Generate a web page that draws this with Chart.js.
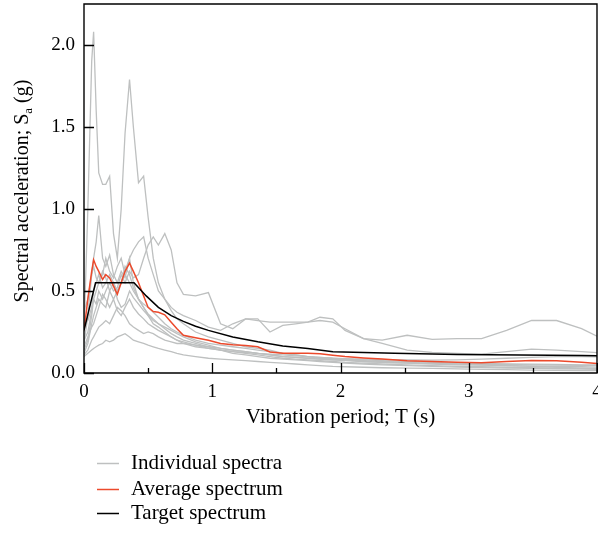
<!DOCTYPE html>
<html><head><meta charset="utf-8">
<script src="https://cdn.jsdelivr.net/npm/chart.js@4/dist/chart.umd.min.js"></script>
<style>html,body{margin:0;padding:0;background:#fff}#wrap{width:598px;height:533px;position:relative}</style>
</head><body><div id="wrap"><canvas id="c" width="598" height="533"></canvas></div>
<script>
// Periods (s) shared by the individual and average spectra
const periods = [0, 0.03, 0.06, 0.075, 0.095, 0.115, 0.145, 0.17, 0.2, 0.23, 0.26, 0.29, 0.32, 0.355, 0.385, 0.425, 0.465, 0.5, 0.54, 0.58, 0.63, 0.68, 0.725, 0.775, 0.87, 0.97, 1.065, 1.16, 1.26, 1.355, 1.45, 1.55, 1.65, 1.745, 1.84, 1.94, 2.035, 2.18, 2.325, 2.52, 2.715, 2.91, 3.1, 3.295, 3.49, 3.685, 3.88, 4.0];

const spectrum1 = [0.25, 1.0, 1.9, 2.08, 1.6, 1.22, 1.15, 1.15, 1.2, 0.85, 0.7, 1.0, 1.46, 1.79, 1.5, 1.16, 1.2, 0.95, 0.7, 0.55, 0.45, 0.38, 0.33, 0.3, 0.25, 0.22, 0.2, 0.18, 0.16, 0.15, 0.14, 0.12, 0.11, 0.1, 0.09, 0.085, 0.08, 0.07, 0.065, 0.06, 0.055, 0.05, 0.048, 0.045, 0.042, 0.04, 0.038, 0.036];
const spectrum2 = [0.18, 0.35, 0.6, 0.7, 0.8, 0.96, 0.7, 0.65, 0.72, 0.6, 0.55, 0.62, 0.58, 0.7, 0.55, 0.45, 0.4, 0.35, 0.3, 0.28, 0.25, 0.22, 0.2, 0.18, 0.16, 0.15, 0.14, 0.13, 0.12, 0.11, 0.1, 0.09, 0.085, 0.08, 0.075, 0.07, 0.065, 0.06, 0.055, 0.05, 0.045, 0.04, 0.038, 0.035, 0.033, 0.03, 0.028, 0.027];
const spectrum3 = [0.3, 0.32, 0.4, 0.45, 0.42, 0.5, 0.45, 0.5, 0.55, 0.5, 0.52, 0.6, 0.55, 0.62, 0.58, 0.6, 0.7, 0.78, 0.83, 0.78, 0.85, 0.75, 0.55, 0.48, 0.47, 0.49, 0.3, 0.27, 0.33, 0.33, 0.25, 0.29, 0.3, 0.31, 0.34, 0.33, 0.26, 0.21, 0.2, 0.23, 0.205, 0.21, 0.21, 0.26, 0.32, 0.32, 0.27, 0.225];
const spectrum4 = [0.2, 0.25, 0.38, 0.5, 0.55, 0.6, 0.52, 0.55, 0.6, 0.55, 0.5, 0.55, 0.62, 0.7, 0.75, 0.8, 0.83, 0.7, 0.6, 0.5, 0.45, 0.4, 0.37, 0.35, 0.32, 0.28, 0.26, 0.3, 0.33, 0.32, 0.31, 0.31, 0.31, 0.31, 0.32, 0.31, 0.27, 0.21, 0.18, 0.14, 0.125, 0.12, 0.115, 0.13, 0.145, 0.14, 0.13, 0.124];
const spectrum5 = [0.14, 0.2, 0.35, 0.45, 0.5, 0.55, 0.62, 0.58, 0.5, 0.45, 0.5, 0.55, 0.65, 0.6, 0.52, 0.45, 0.4, 0.36, 0.33, 0.3, 0.28, 0.26, 0.24, 0.22, 0.19, 0.17, 0.15, 0.14, 0.13, 0.12, 0.11, 0.1, 0.095, 0.09, 0.085, 0.08, 0.075, 0.07, 0.065, 0.06, 0.058, 0.055, 0.053, 0.052, 0.05, 0.048, 0.046, 0.045];
const spectrum6 = [0.12, 0.18, 0.3, 0.35, 0.4, 0.45, 0.42, 0.4, 0.5, 0.55, 0.45, 0.4, 0.42, 0.5, 0.46, 0.42, 0.38, 0.35, 0.32, 0.3, 0.27, 0.24, 0.22, 0.2, 0.18, 0.16, 0.15, 0.14, 0.13, 0.12, 0.115, 0.11, 0.105, 0.1, 0.095, 0.09, 0.088, 0.085, 0.082, 0.08, 0.078, 0.08, 0.085, 0.09, 0.095, 0.1, 0.1, 0.098];
const spectrum7 = [0.11, 0.14, 0.2, 0.22, 0.25, 0.28, 0.3, 0.32, 0.3, 0.35, 0.4, 0.38, 0.35, 0.3, 0.28, 0.26, 0.24, 0.25, 0.24, 0.22, 0.2, 0.19, 0.18, 0.18, 0.17, 0.16, 0.14, 0.12, 0.11, 0.1, 0.09, 0.085, 0.08, 0.075, 0.07, 0.065, 0.06, 0.055, 0.05, 0.045, 0.04, 0.036, 0.033, 0.03, 0.028, 0.026, 0.024, 0.022];
const spectrum8 = [0.1, 0.12, 0.14, 0.15, 0.16, 0.17, 0.18, 0.2, 0.19, 0.2, 0.22, 0.23, 0.24, 0.22, 0.2, 0.19, 0.18, 0.17, 0.16, 0.15, 0.14, 0.13, 0.12, 0.11, 0.1, 0.09, 0.085, 0.08, 0.075, 0.07, 0.065, 0.06, 0.055, 0.05, 0.045, 0.04, 0.038, 0.035, 0.032, 0.03, 0.028, 0.025, 0.022, 0.02, 0.018, 0.016, 0.015, 0.014];
const spectrum9 = [0.38, 0.45, 0.6, 0.65, 0.58, 0.55, 0.6, 0.7, 0.62, 0.58, 0.65, 0.7, 0.6, 0.55, 0.5, 0.45, 0.42, 0.4, 0.37, 0.34, 0.3, 0.27, 0.25, 0.23, 0.2, 0.18, 0.17, 0.16, 0.15, 0.14, 0.13, 0.12, 0.11, 0.1, 0.095, 0.09, 0.085, 0.08, 0.075, 0.07, 0.065, 0.06, 0.058, 0.056, 0.054, 0.052, 0.05, 0.05];
const spectrum10 = [0.16, 0.22, 0.28, 0.3, 0.35, 0.4, 0.48, 0.45, 0.4, 0.45, 0.38, 0.35, 0.4, 0.45, 0.4, 0.36, 0.33, 0.3, 0.28, 0.26, 0.24, 0.22, 0.2, 0.19, 0.17, 0.15, 0.14, 0.13, 0.125, 0.12, 0.11, 0.1, 0.095, 0.09, 0.085, 0.08, 0.078, 0.075, 0.07, 0.065, 0.06, 0.055, 0.05, 0.045, 0.04, 0.035, 0.03, 0.028];

const averageSpectrum = [0.26, 0.45, 0.62, 0.69, 0.65, 0.62, 0.57, 0.6, 0.58, 0.53, 0.48, 0.55, 0.62, 0.67, 0.62, 0.55, 0.47, 0.4, 0.375, 0.37, 0.355, 0.31, 0.27, 0.23, 0.215, 0.2, 0.18, 0.172, 0.168, 0.16, 0.128, 0.12, 0.12, 0.12, 0.118, 0.108, 0.1, 0.092, 0.085, 0.075, 0.07, 0.065, 0.062, 0.07, 0.076, 0.074, 0.065, 0.058];

const targetPeriods = [0, 0.09, 0.39, 0.485, 0.58, 0.68, 0.775, 0.87, 0.97, 1.16, 1.355, 1.55, 1.745, 1.94, 2.42, 2.91, 3.4, 3.88, 4.0];
const targetSpectrum = [0.26, 0.55, 0.55, 0.47, 0.40, 0.35, 0.315, 0.285, 0.26, 0.22, 0.19, 0.165, 0.15, 0.13, 0.12, 0.113, 0.109, 0.106, 0.105];

const xMajorTicks = [0, 1, 2, 3, 4];
const xMinorTicks = [0.5, 1.5, 2.5, 3.5];
const yTicks = [0, 0.5, 1.0, 1.5, 2.0];

const seriesLabels = ['Individual spectra', 'Average spectrum', 'Target spectrum'];
const individualSpectra = [spectrum1, spectrum2, spectrum3, spectrum4, spectrum5, spectrum6, spectrum7, spectrum8, spectrum9, spectrum10];

const GRAY = 'rgb(190,192,192)';
const RED = 'rgb(236,74,44)';
const BLACK = '#000';
const FONT = '"Liberation Serif", "DejaVu Serif", serif';

function pts(xs, ys) { return xs.map((x, i) => ({ x, y: ys[i] })); }

const datasets = [];
individualSpectra.forEach(s => datasets.push({
  label: seriesLabels[0], data: pts(periods, s), borderColor: GRAY, borderWidth: 1.3,
  pointRadius: 0, tension: 0, order: 2, fill: false
}));
datasets.push({ label: seriesLabels[1], data: pts(periods, averageSpectrum), borderColor: RED, borderWidth: 1.5, pointRadius: 0, tension: 0, order: 1, fill: false });
datasets.push({ label: seriesLabels[2], data: pts(targetPeriods, targetSpectrum), borderColor: BLACK, borderWidth: 1.5, pointRadius: 0, tension: 0, order: 0, fill: false });

const decor = {
  id: 'decor',
  afterDraw(chart) {
    const { ctx, chartArea: a, scales: { x, y } } = chart;
    ctx.save();
    ctx.strokeStyle = '#000';
    ctx.lineWidth = 1.4;
    ctx.beginPath();
    ctx.moveTo(a.left, a.top); ctx.lineTo(a.right, a.top); ctx.lineTo(a.right, a.bottom); ctx.lineTo(a.left, a.bottom); ctx.closePath();
    ctx.stroke();
    ctx.lineWidth = 1.3;
    ctx.beginPath();
    xMajorTicks.forEach(v => { const p = Math.round(x.getPixelForValue(v)) + 0.5; ctx.moveTo(p, a.bottom); ctx.lineTo(p, a.bottom - 10); });
    xMinorTicks.forEach(v => { const p = Math.round(x.getPixelForValue(v)) + 0.5; ctx.moveTo(p, a.bottom); ctx.lineTo(p, a.bottom - 5); });
    yTicks.forEach(v => { const p = Math.round(y.getPixelForValue(v)) + 0.5; ctx.moveTo(a.left, p); ctx.lineTo(a.left + 10, p); });
    ctx.stroke();

    // x title
    ctx.fillStyle = '#000';
    ctx.font = '21px ' + FONT;
    ctx.textAlign = 'center';
    ctx.textBaseline = 'middle';
    ctx.fillText('Vibration period; T (s)', (a.left + a.right) / 2, 417);

    // y title with subscript
    const t1 = 'Spectral acceleration; S', sub = 'a', t2 = ' (g)';
    ctx.font = '20px ' + FONT;
    const w1 = ctx.measureText(t1).width, w2 = ctx.measureText(t2).width;
    ctx.font = '13px ' + FONT;
    const ws = ctx.measureText(sub).width;
    const total = w1 + ws + w2;
    ctx.translate(21, 191);
    ctx.rotate(-Math.PI / 2);
    ctx.textAlign = 'left';
    ctx.textBaseline = 'alphabetic';
    let cx = -total / 2;
    ctx.font = '20px ' + FONT; ctx.fillText(t1, cx, 7); cx += w1;
    ctx.font = '13px ' + FONT; ctx.fillText(sub, cx, 11); cx += ws;
    ctx.font = '20px ' + FONT; ctx.fillText(t2, cx, 7);
    ctx.setTransform(1, 0, 0, 1, 0, 0);

    // legend
    const items = [[seriesLabels[0], GRAY, 463], [seriesLabels[1], RED, 489], [seriesLabels[2], BLACK, 513]];
    ctx.font = '21px ' + FONT;
    ctx.textAlign = 'left';
    ctx.textBaseline = 'middle';
    items.forEach(([lab, col, yy]) => {
      ctx.strokeStyle = col; ctx.lineWidth = 1.5;
      ctx.beginPath(); ctx.moveTo(97, yy + 0.5); ctx.lineTo(119, yy + 0.5); ctx.stroke();
      ctx.fillStyle = '#000';
      ctx.fillText(lab, 131, yy);
    });
    ctx.restore();
  }
};

new Chart(document.getElementById('c'), {
  type: 'line',
  data: { datasets },
  plugins: [decor],
  options: {
    responsive: false,
    animation: false,
    devicePixelRatio: 1,
    layout: { padding: { top: 4, right: 1, left: 0, bottom: 0 } },
    plugins: { legend: { display: false }, tooltip: { enabled: false } },
    scales: {
      x: {
        type: 'linear', min: 0, max: 4,
        grid: { display: false, drawTicks: false },
        border: { display: false },
        ticks: { stepSize: 1, padding: 8, color: '#000', font: { size: 19, family: FONT }, maxRotation: 0, autoSkip: false,
          callback: v => xMajorTicks.includes(v) ? String(v) : '' },
        afterFit(s) { s.height = 160; s.paddingLeft = 0; s.paddingRight = 0; }
      },
      y: {
        type: 'linear', min: 0, max: 2.25,
        grid: { display: false, drawTicks: false },
        border: { display: false },
        ticks: { stepSize: 0.5, padding: 9, color: '#000', font: { size: 19, family: FONT },
          callback: v => yTicks.some(t => Math.abs(t - v) < 1e-9) ? v.toFixed(1) : '' },
        afterFit(s) { s.width = 84; s.paddingTop = 0; s.paddingBottom = 0; }
      }
    }
  }
});
</script>
</body></html>
